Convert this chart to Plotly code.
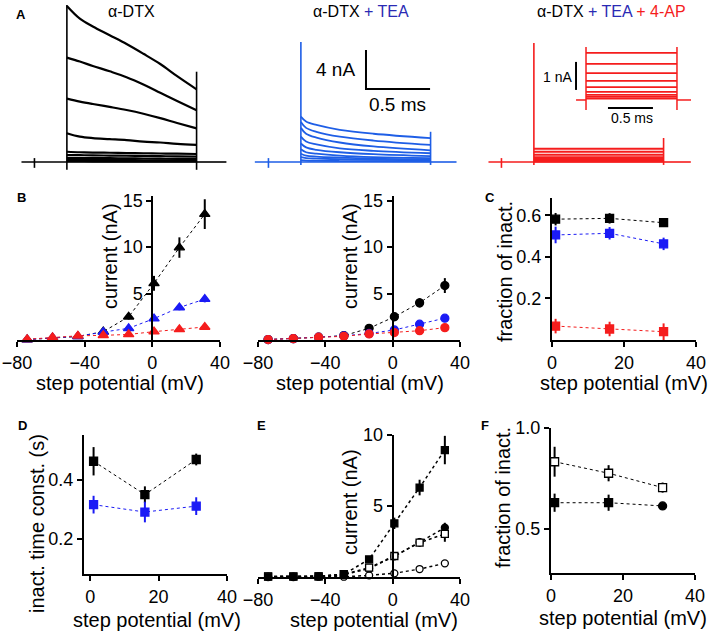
import plotly.graph_objects as go

W, H = 710, 634
def fx(px): return px / W
def fy(py): return 1 - py / H
def xdom(a, b): return [fx(a), fx(b)]
def ydom(top, bottom): return [fy(bottom), fy(top)]

FONT = "Liberation Sans, Arial, sans-serif"
BLACK = "#000000"
BLUE = "#1b1bf5"
BLUE_TRACE = "#1e5ee6"
BLUE_TEXT = "#2a2ab4"
RED = "#f51d1d"

# ---------------- Panel A: current traces (time in ms, current in nA) ----------------
t_black = [0, 0.1, 0.2, 0.33, 0.46, 0.59, 0.72, 0.85, 1.0]
black_tr1 = [16.0, 14.7, 13.9, 13.0, 12.1, 11.1, 10.05, 8.8, 7.45]
black_tr2 = [10.7, 10.3, 9.85, 9.3, 8.7, 7.95, 7.1, 6.25, 5.3]
black_tr3 = [6.5, 6.2, 5.95, 5.65, 5.33, 4.95, 4.5, 4.0, 3.45]
black_tr4 = [2.95, 2.6, 2.45, 2.35, 2.25, 2.1, 2.0, 1.85, 1.75]
black_tr5 = [1.05, 1.0, 0.97, 0.95, 0.92, 0.9, 0.87, 0.85, 0.82]
black_tr6 = [0.72, 0.7, 0.68, 0.66, 0.64, 0.62, 0.6, 0.57, 0.55]
black_tr7 = [0.42, 0.41, 0.4, 0.39, 0.37, 0.36, 0.34, 0.32, 0.3]
black_tr8 = [0.22, 0.21, 0.21, 0.2, 0.19, 0.18, 0.17, 0.16, 0.15]
black_tr9 = [0.08, 0.08, 0.07, 0.07, 0.07, 0.06, 0.06, 0.05, 0.05]
black_traces = [black_tr1, black_tr2, black_tr3, black_tr4, black_tr5,
                black_tr6, black_tr7, black_tr8, black_tr9]

t_blue = [0, 0.04, 0.12, 0.3, 0.56, 1.0]
blue_tr1 = [4.65, 4.15, 3.8, 3.3, 2.9, 2.45]
blue_tr2 = [4.1, 3.5, 3.1, 2.6, 2.2, 1.75]
blue_tr3 = [3.5, 2.9, 2.5, 2.0, 1.6, 1.2]
blue_tr4 = [2.6, 2.1, 1.8, 1.4, 1.15, 0.9]
blue_tr5 = [1.9, 1.5, 1.25, 1.0, 0.8, 0.6]
blue_tr6 = [1.3, 1.0, 0.85, 0.65, 0.5, 0.4]
blue_tr7 = [0.85, 0.65, 0.55, 0.45, 0.35, 0.28]
blue_tr8 = [0.5, 0.4, 0.35, 0.28, 0.22, 0.18]
blue_tr9 = [0.2, 0.15, 0.12, 0.1, 0.08, 0.06]
blue_traces = [blue_tr1, blue_tr2, blue_tr3, blue_tr4, blue_tr5,
               blue_tr6, blue_tr7, blue_tr8, blue_tr9]

t_red = [0, 1.0]
red_levels = [1.35, 1.05, 0.75, 0.5, 0.3, 0.15, 0.05]

# inset (red, expanded scale)
t_inset = [0, 1.011]
inset_levels = [1.68, 1.29, 0.96, 0.68, 0.46, 0.29, 0.18, 0.11, 0.05]

# step protocol markers (ms) and capacitive edges (nA)
step_on = [0, 0, 0]
step_off = [1.0, 1.0, 1.0]
pre_start = [-0.35, -0.355, -0.35]
hold_tick = [-0.25, -0.25, -0.25]
post_end = [1.23, 1.2, 1.21]
edge_low = [-0.8, -0.3, -0.3]
edge_on_high = [16.1, 12.3, 12.2]
edge_off_high = [9.26, 3.1, 2.46]
tick_span = [-0.6, 0.4]

inset_pre = -0.111
inset_post = 1.167
inset_edge = [-0.36, 1.89]

scalebar_main_t = [0.502, 0.996]   # 0.5 ms
scalebar_main_i = [7.49, 11.49]    # 4 nA
scalebar_inset_t = [0.244, 0.744]  # 0.5 ms
scalebar_inset_i = [0.36, 1.36]    # 1 nA
scalebar_inset_y = -0.286

# ---------------- Panel B: I-V curves ----------------
v_steps = [-74, -59, -44, -29, -14, 1, 16, 31]
b1_black = [0.05, 0.2, 0.38, 0.9, 2.5, 6.1, 9.95, 13.55]
b1_black_err = [0, 0, 0.05, 0.1, 0.3, 0.8, 1.1, 1.6]
b1_blue = [0.05, 0.25, 0.4, 0.85, 1.26, 2.3, 3.5, 4.4]
b1_blue_err = [0, 0, 0, 0.1, 0.15, 0.2, 0.3, 0.35]
b1_red = [0.08, 0.28, 0.45, 0.5, 0.6, 0.9, 1.15, 1.4]
b1_red_err = [0, 0, 0, 0, 0.05, 0.1, 0.1, 0.1]

b2_black = [0.05, 0.15, 0.3, 0.47, 1.26, 2.5, 4.0, 5.86]
b2_black_err = [0, 0, 0, 0.1, 0.2, 0.3, 0.5, 0.8]
b2_blue = [0.05, 0.15, 0.3, 0.45, 0.7, 1.08, 1.7, 2.35]
b2_blue_err = [0, 0, 0, 0, 0.05, 0.1, 0.1, 0.15]
b2_red = [0.05, 0.15, 0.3, 0.4, 0.65, 0.8, 1.0, 1.33]
b2_red_err = [0, 0, 0, 0, 0.05, 0.05, 0.1, 0.1]

# ---------------- Panels C, D, F: inactivation ----------------
v_inact = [1, 16, 31]
c_black = [0.582, 0.586, 0.565]
c_black_err = [0.03, 0.025, 0.01]
c_blue = [0.506, 0.514, 0.463]
c_blue_err = [0.04, 0.03, 0.03]
c_red = [0.067, 0.053, 0.04]
c_red_err = [0.035, 0.035, 0.04]

d_black = [0.462, 0.349, 0.468]
d_black_err = [0.048, 0.028, 0.02]
d_blue = [0.315, 0.29, 0.31]
d_blue_err = [0.03, 0.035, 0.03]

f_open = [0.833, 0.776, 0.705]
f_open_err = [0.074, 0.04, 0.025]
f_filled = [0.63, 0.63, 0.614]
f_filled_err = [0.045, 0.04, 0.01]

# ---------------- Panel E ----------------
e_filled_sq = [0.02, 0.03, 0.05, 0.2, 1.24, 3.78, 6.3, 8.94]
e_filled_sq_err = [0, 0, 0, 0.05, 0.2, 0.4, 0.55, 1.0]
e_filled_ci = [0.02, 0.03, 0.05, 0.15, 0.6, 1.45, 2.45, 3.47]
e_filled_ci_err = [0, 0, 0, 0, 0.1, 0.2, 0.3, 0.35]
e_open_sq = [0.05, 0.05, 0.05, 0.2, 0.66, 1.48, 2.42, 3.03]
e_open_sq_err = [0, 0, 0, 0, 0.1, 0.2, 0.3, 0.55]
e_open_ci = [0.0, 0.0, 0.02, 0.02, 0.11, 0.26, 0.56, 0.96]

fig = go.Figure()

def ref(n):
    return ("x" if n == 1 else f"x{n}"), ("y" if n == 1 else f"y{n}")

def line(n, x, y, color, width, shape="linear", dash=None):
    xr, yr = ref(n)
    fig.add_trace(go.Scatter(x=x, y=y, xaxis=xr, yaxis=yr, mode="lines",
                             line=dict(color=color, width=width, shape=shape, dash=dash),
                             hoverinfo="skip", showlegend=False))

def series(n, x, y, err, color, symbol, size, fill=None, lw=1):
    xr, yr = ref(n)
    fig.add_trace(go.Scatter(
        x=x, y=y, xaxis=xr, yaxis=yr, mode="lines+markers", cliponaxis=False,
        line=dict(color=color, width=lw, dash="dot"),
        marker=dict(symbol=symbol, size=size, color=fill or color,
                    line=dict(color=color, width=1.3)),
        error_y=dict(type="data", array=err, visible=err is not None,
                     color=color, thickness=2, width=0),
        showlegend=False))

def frame(n, i, color, width):
    on, off = step_on[i], step_off[i]
    line(n, [pre_start[i], on], [0, 0], color, width)
    line(n, [hold_tick[i], hold_tick[i]], tick_span, color, width)
    line(n, [on, on], [edge_low[i], edge_on_high[i]], color, width)
    line(n, [off, off], [edge_low[i], edge_off_high[i]], color, width)
    line(n, [off, post_end[i]], [0, 0], color, width)
    line(n, [on, off], [0, 0], color, width)

# Panel A traces
frame(1, 0, BLACK, 1.6)
for tr in black_traces:
    line(1, t_black, tr, BLACK, 2.2, shape="spline")
frame(2, 1, BLUE_TRACE, 1.6)
for tr in blue_traces:
    line(2, t_blue, tr, BLUE_TRACE, 1.8, shape="spline")
frame(3, 2, RED, 1.6)
for lv in red_levels:
    line(3, t_red, [lv, lv], RED, 2)
# inset
line(4, [inset_pre, t_inset[0]], [0, 0], RED, 1.5)
line(4, [t_inset[1], inset_post], [0, 0], RED, 1.5)
line(4, [t_inset[0], t_inset[0]], inset_edge, RED, 1.5)
line(4, [t_inset[1], t_inset[1]], inset_edge, RED, 1.5)
for lv in inset_levels:
    line(4, t_inset, [lv, lv], RED, 1.8)
# scale bars
line(2, [scalebar_main_t[0], scalebar_main_t[0], scalebar_main_t[1]],
     [scalebar_main_i[1], scalebar_main_i[0], scalebar_main_i[0]], BLACK, 2)
line(4, [inset_pre, inset_pre], scalebar_inset_i, BLACK, 2)
line(4, scalebar_inset_t, [scalebar_inset_y, scalebar_inset_y], BLACK, 2)

# Panel B
series(5, v_steps, b1_black, b1_black_err, BLACK, "triangle-up", 9)
series(5, v_steps, b1_blue, b1_blue_err, BLUE, "triangle-up", 9)
series(5, v_steps, b1_red, b1_red_err, RED, "triangle-up", 9)
series(6, v_steps, b2_black, b2_black_err, BLACK, "circle", 8)
series(6, v_steps, b2_blue, b2_blue_err, BLUE, "circle", 8)
series(6, v_steps, b2_red, b2_red_err, RED, "circle", 8)
# Panel C
series(7, v_inact, c_black, c_black_err, BLACK, "square", 8)
series(7, v_inact, c_blue, c_blue_err, BLUE, "square", 8)
series(7, v_inact, c_red, c_red_err, RED, "square", 8)
# Panel D
series(8, v_inact, d_black, d_black_err, BLACK, "square", 8)
series(8, v_inact, d_blue, d_blue_err, BLUE, "square", 8)
# Panel E
series(9, v_steps, e_open_ci, None, BLACK, "circle", 7, fill="white", lw=1.5)
series(9, v_steps, e_filled_ci, e_filled_ci_err, BLACK, "circle", 7, lw=1.5)
series(9, v_steps, e_open_sq, e_open_sq_err, BLACK, "square", 7, fill="white", lw=1.5)
series(9, v_steps, e_filled_sq, e_filled_sq_err, BLACK, "square", 7, lw=1.5)
# Panel F
series(10, v_inact, f_open, f_open_err, BLACK, "square", 8, fill="white")
series(10, v_inact, f_filled, f_filled_err, BLACK, ["square", "square", "circle"], 8)

axis_common = dict(showline=True, linewidth=2, linecolor=BLACK, ticks="outside",
                   ticklen=5, tickwidth=2, tickcolor=BLACK, showgrid=False,
                   zeroline=False, automargin=False,
                   tickfont=dict(family=FONT, size=18, color=BLACK))
hidden = dict(visible=False, showgrid=False, zeroline=False, automargin=False)

layout = dict(template="none", width=W, height=H,
              margin=dict(l=0, r=0, t=0, b=0, pad=0, autoexpand=False),
              paper_bgcolor="white", plot_bgcolor="rgba(0,0,0,0)",
              font=dict(family=FONT, color=BLACK), showlegend=False)

a_yrange = [-1.333, 16.615]
a_xrange = [-0.4, 1.25]
layout["xaxis"] = dict(hidden, domain=xdom(15, 229), range=a_xrange, anchor="y")
layout["yaxis"] = dict(hidden, domain=ydom(0, 175), range=a_yrange, anchor="x")
layout["xaxis2"] = dict(hidden, domain=xdom(249, 463), range=a_xrange, anchor="y2")
layout["yaxis2"] = dict(hidden, domain=ydom(0, 175), range=a_yrange, anchor="x2")
layout["xaxis3"] = dict(hidden, domain=xdom(482, 696), range=a_xrange, anchor="y3")
layout["yaxis3"] = dict(hidden, domain=ydom(0, 175), range=a_yrange, anchor="x3")
layout["xaxis4"] = dict(hidden, domain=xdom(570, 692), range=[-0.178, 1.178], anchor="y4")
layout["yaxis4"] = dict(hidden, domain=ydom(40, 115), range=[-0.536, 2.143], anchor="x4")

vx_ticks = [-80, -40, 0, 40]
# B left
layout["xaxis5"] = dict(axis_common, domain=xdom(17, 220), range=[-80, 40], tickvals=vx_ticks, anchor="y5")
layout["yaxis5"] = dict(axis_common, domain=ydom(196, 340), range=[0, 15.5], tickvals=[5, 10, 15],
                        anchor="free", position=fx(152.3))
# B middle
layout["xaxis6"] = dict(axis_common, domain=xdom(258, 460), range=[-80, 40], tickvals=vx_ticks, anchor="y6")
layout["yaxis6"] = dict(axis_common, domain=ydom(196, 340), range=[0, 15.5], tickvals=[5, 10, 15],
                        anchor="free", position=fx(392.7))
# C
layout["xaxis7"] = dict(axis_common, domain=xdom(552, 696), range=[0, 40], tickvals=[0, 20, 40], anchor="y7")
layout["yaxis7"] = dict(axis_common, domain=ydom(198, 340), range=[0, 0.684], tickvals=[0.2, 0.4, 0.6],
                        tickformat=".1f", anchor="x7")
# D
layout["xaxis8"] = dict(axis_common, domain=xdom(84, 227), range=[-1.8, 40], tickvals=[0, 20, 40], anchor="y8")
layout["yaxis8"] = dict(axis_common, domain=ydom(435, 574), range=[0.08, 0.551], tickvals=[0.2, 0.4],
                        tickformat=".1f", anchor="x8")
# E
layout["xaxis9"] = dict(axis_common, domain=xdom(258, 460), range=[-80, 40], tickvals=vx_ticks, anchor="y9")
layout["yaxis9"] = dict(axis_common, domain=ydom(435, 577), range=[0, 10], tickvals=[5, 10],
                        anchor="free", position=fx(392.7))
# F
layout["xaxis10"] = dict(axis_common, domain=xdom(551, 695), range=[0, 40], tickvals=[0, 20, 40], anchor="y10")
layout["yaxis10"] = dict(axis_common, domain=ydom(428, 573), range=[0.282, 1.0], tickvals=[0.5, 1.0],
                         tickformat=".1f", anchor="x10")

fig.update_layout(**layout)

def note(text, px, py, size, angle=0, bold=False, xanchor="center", color=BLACK):
    fig.add_annotation(text=f"<b>{text}</b>" if bold else text, x=fx(px), y=fy(py),
                       xref="paper", yref="paper", showarrow=False, textangle=angle,
                       xanchor=xanchor, yanchor="middle",
                       font=dict(family=FONT, size=size, color=color))

# panel letters
for letter, px, py in [("A", 21, 15), ("B", 21, 197), ("C", 490, 197),
                       ("D", 22, 425), ("E", 261, 425), ("F", 485, 425)]:
    note(letter, px, py, 13, bold=True)

# condition titles
note("α-DTX", 131, 11, 16)
note(f"α-DTX <span style='color:{BLUE_TEXT}'>+ TEA</span>", 361, 11, 16)
note(f"α-DTX <span style='color:{BLUE_TEXT}'>+ TEA</span> <span style='color:{RED}'>+ 4-AP</span>", 611, 11, 16)

# scale bar labels
note("4 nA", 357, 70, 19, xanchor="right")
note("0.5 ms", 397, 105, 19)
note("1 nA", 574, 77, 14, xanchor="right")
note("0.5 ms", 632, 118, 14)

# axis titles
xt = "step potential (mV)"
note(xt, 120, 383, 20)
note(xt, 360, 383, 20)
note(xt, 624, 383, 20)
note(xt, 157, 620, 20)
note(xt, 374, 620, 20)
note(xt, 623, 618, 20)
note("current (nA)", 110, 256, 20, angle=-90)
note("current (nA)", 350, 256, 20, angle=-90)
note("fraction of inact.", 505, 272, 20, angle=-90)
note("inact. time const. (s)", 37, 524, 20, angle=-90)
note("current (nA)", 350, 502, 20, angle=-90)
note("fraction of inact.", 503, 498, 20, angle=-90)

fig.write_html("out.html", config={"displayModeBar": False, "staticPlot": True},
               post_script="document.body.style.margin='0px';document.body.style.overflow='hidden';")
